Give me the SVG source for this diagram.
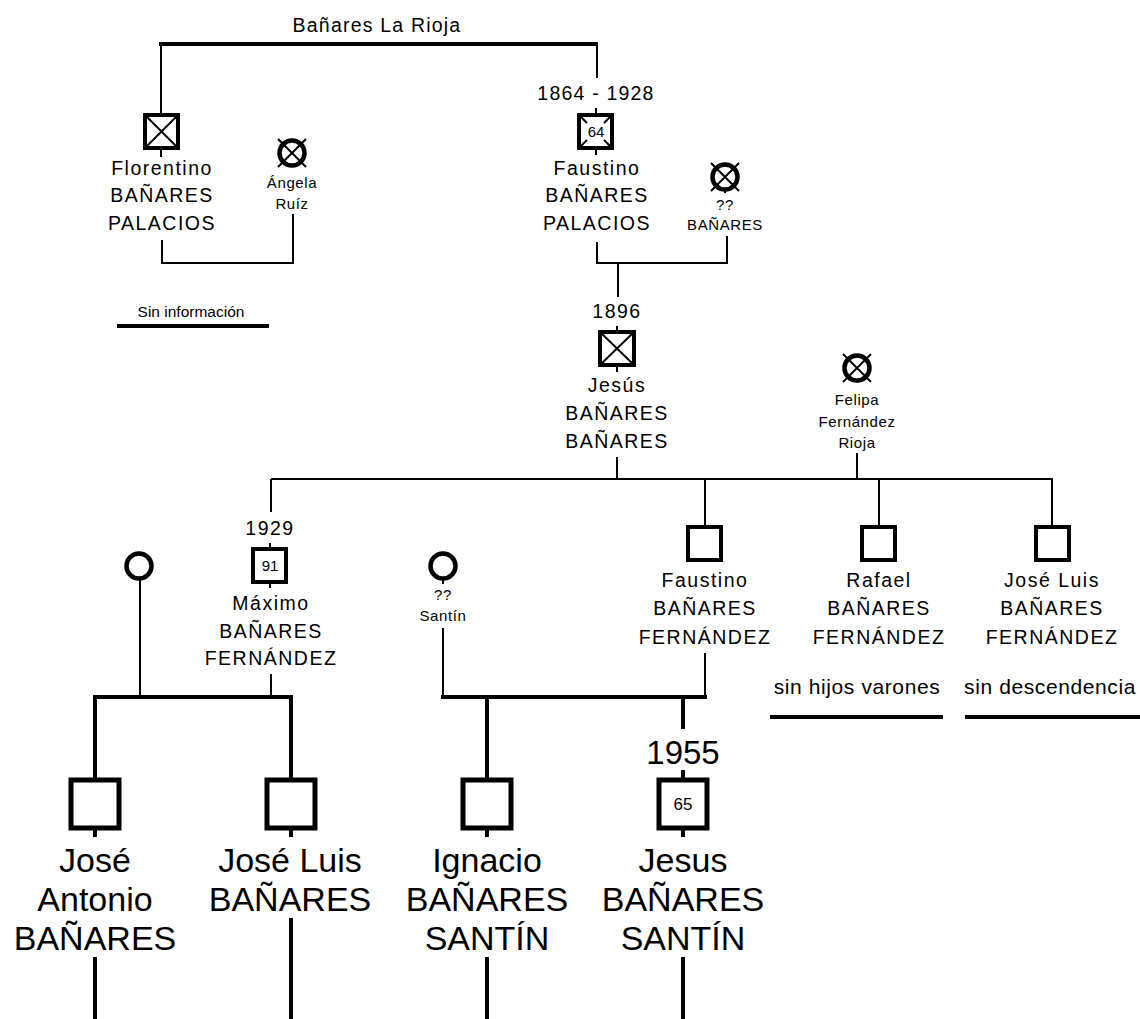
<svg xmlns="http://www.w3.org/2000/svg" width="1140" height="1019" viewBox="0 0 1140 1019">
<style>
text{font-family:"Liberation Sans",Arial,sans-serif;fill:#000;text-anchor:middle}
.n{font-size:19.5px;letter-spacing:1.5px}
.s{font-size:15px;letter-spacing:0.6px}
.m{font-size:21px;letter-spacing:0.6px}
.b{font-size:34px}
.y{font-size:33px}
.in{font-size:15px}
.t{fill:none;stroke:#000;stroke-width:2}
.k{fill:none;stroke:#000;stroke-width:4}
.sq{fill:#fff;stroke:#000;stroke-width:4}
.bsq{fill:#fff;stroke:#000;stroke-width:5}
.c{fill:#fff;stroke:#000;stroke-width:4.5}
.x{stroke:#000;stroke-width:2;fill:none}
</style>
<rect width="1140" height="1019" fill="#fff"/>
<g id="connectors">
<path class="k" d="M159 44 H598"/>
<path class="t" d="M161 44 V115 M161 150 V157"/>
<path class="t" d="M597 44 V78 M596 108 V115 M596 150 V155"/>
<path class="t" d="M162 240 V263 H293 V214"/>
<path class="t" d="M597 242 V263 H727 V236 M618 263 V297"/>
<path class="t" d="M617 326 V332 M617 365 V372"/>
<path class="t" d="M617 457 V479 M857 453 V479 M271 479 H1053 M271 479 V512 M705 479 V527 M879 479 V527 M1052 479 V527"/>
<path class="t" d="M270 543 V549 M270 582 V588 M271 674 V696 M140 579 V696"/>
<path class="t" d="M443 579 V584 M443 628 V696 M705 653 V696"/>
<path class="k" d="M93 697 H293 M95 697 V780 M291 697 V780"/>
<path class="k" d="M441 697 H707 M487 697 V780 M683 697 V729 M683 770 V780"/>
<path class="k" d="M95 828 V837 M291 828 V837 M487 828 V837 M683 828 V837"/>
<path class="k" d="M95 957 V1019 M291 918 V1019 M487 957 V1019 M683 957 V1019"/>
<path class="k" d="M117 326 H269 M770 717 H943 M965 717 H1140"/>
</g>
<g id="title"><text class="n" x="377" y="32" style="letter-spacing:1.2px">Bañares La Rioja</text></g>
<g id="florentino">
<rect class="sq" x="145" y="115" width="33" height="33"/>
<path class="x" d="M145 115 L178 148 M178 115 L145 148"/>
<text class="n" x="162" y="175">Florentino</text>
<text class="n" x="162" y="202">BAÑARES</text>
<text class="n" x="162" y="230">PALACIOS</text>
</g>
<g id="angela">
<circle class="c" cx="292" cy="153" r="12.5"/>
<path class="x" d="M278 139 L306 167 M306 139 L278 167"/>
<text class="s" x="292" y="188">Ángela</text>
<text class="s" x="292" y="209">Ruíz</text>
</g>
<g id="sin-informacion"><text class="n" x="191" y="317" style="font-size:15.5px;letter-spacing:0">Sin información</text></g>
<g id="faustino-palacios">
<text class="n" x="596" y="100" style="letter-spacing:1.2px">1864 - 1928</text>
<rect class="sq" x="579" y="115" width="33" height="33"/>
<path class="x" d="M579 115 L587 123 M612 115 L604 123 M579 148 L587 140 M612 148 L604 140"/>
<text class="in" x="596" y="137">64</text>
<text class="n" x="597" y="175">Faustino</text>
<text class="n" x="597" y="202">BAÑARES</text>
<text class="n" x="597" y="230">PALACIOS</text>
</g>
<g id="banares-wife">
<circle class="c" cx="725" cy="177" r="12.5"/>
<path class="x" d="M711 163 L739 191 M739 163 L711 191 M725 189 V193"/>
<text class="s" x="725" y="210">??</text>
<text class="s" x="725" y="230">BAÑARES</text>
</g>
<g id="jesus">
<text class="n" x="617" y="318">1896</text>
<rect class="sq" x="600" y="332" width="34" height="33"/>
<path class="x" d="M600 332 L634 365 M634 332 L600 365"/>
<text class="n" x="617" y="392">Jesús</text>
<text class="n" x="617" y="420">BAÑARES</text>
<text class="n" x="617" y="448">BAÑARES</text>
</g>
<g id="felipa">
<circle class="c" cx="857" cy="368" r="12.5"/>
<path class="x" d="M843 354 L871 382 M871 354 L843 382"/>
<text class="s" x="857" y="405">Felipa</text>
<text class="s" x="857" y="427">Fernández</text>
<text class="s" x="857" y="448">Rioja</text>
</g>
<g id="maximo">
<text class="n" x="270" y="535">1929</text>
<rect class="sq" x="253" y="549" width="33" height="33"/>
<text class="in" x="270" y="571">91</text>
<text class="n" x="271" y="610">Máximo</text>
<text class="n" x="271" y="638">BAÑARES</text>
<text class="n" x="271" y="665">FERNÁNDEZ</text>
</g>
<g id="maximo-wife"><circle class="c" cx="139" cy="566" r="12.5"/></g>
<g id="santin">
<circle class="c" cx="443" cy="566" r="12.5"/>
<text class="s" x="443" y="600">??</text>
<text class="s" x="443" y="621">Santín</text>
</g>
<g id="faustino-fernandez">
<rect class="sq" x="688" y="527" width="33" height="33"/>
<text class="n" x="705" y="587">Faustino</text>
<text class="n" x="705" y="615">BAÑARES</text>
<text class="n" x="705" y="644">FERNÁNDEZ</text>
</g>
<g id="rafael">
<rect class="sq" x="862" y="527" width="33" height="33"/>
<text class="n" x="879" y="587">Rafael</text>
<text class="n" x="879" y="615">BAÑARES</text>
<text class="n" x="879" y="644">FERNÁNDEZ</text>
<text class="m" x="857" y="694">sin hijos varones</text>
</g>
<g id="jose-luis-fernandez">
<rect class="sq" x="1036" y="527" width="33" height="33"/>
<text class="n" x="1052" y="587">José Luis</text>
<text class="n" x="1052" y="615">BAÑARES</text>
<text class="n" x="1052" y="644">FERNÁNDEZ</text>
<text class="m" x="1050" y="694">sin descendencia</text>
</g>
<g id="jose-antonio">
<rect class="bsq" x="71" y="780" width="48" height="48"/>
<text class="b" x="95" y="872">José</text>
<text class="b" x="95" y="911">Antonio</text>
<text class="b" x="95" y="950">BAÑARES</text>
</g>
<g id="jose-luis">
<rect class="bsq" x="267" y="780" width="48" height="48"/>
<text class="b" x="290" y="872">José Luis</text>
<text class="b" x="290" y="911">BAÑARES</text>
</g>
<g id="ignacio">
<rect class="bsq" x="463" y="780" width="48" height="48"/>
<text class="b" x="487" y="872">Ignacio</text>
<text class="b" x="487" y="911">BAÑARES</text>
<text class="b" x="487" y="950">SANTÍN</text>
</g>
<g id="jesus-santin">
<text class="y" x="683" y="764">1955</text>
<rect class="bsq" x="659" y="780" width="48" height="48"/>
<text class="in" x="683" y="810" style="font-size:17px">65</text>
<text class="b" x="683" y="872">Jesus</text>
<text class="b" x="683" y="911">BAÑARES</text>
<text class="b" x="683" y="950">SANTÍN</text>
</g>
</svg>
